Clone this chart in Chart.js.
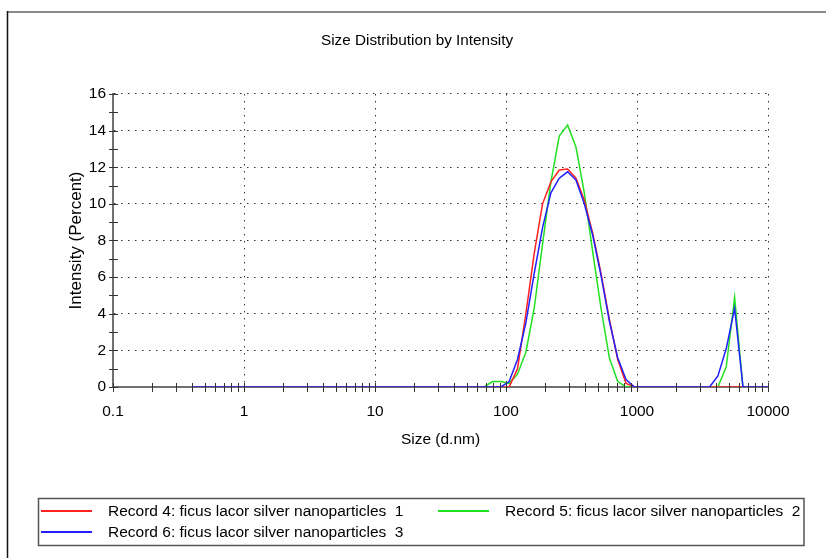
<!DOCTYPE html>
<html>
<head>
<meta charset="utf-8">
<title>Size Distribution by Intensity</title>
<script src="https://cdn.jsdelivr.net/npm/chart.js@4.4.0/dist/chart.umd.min.js"></script>
<style>
  html, body { margin: 0; padding: 0; background: #fff; }
  canvas { display: block; }
</style>
</head>
<body>
<canvas id="sizeChart" width="826" height="558"></canvas>
<script>
// size classes (d.nm)
const sizes = [
  0.4, 0.4632, 0.5365, 0.6213, 0.7195, 0.8332, 0.9649, 1.117, 1.294, 1.499,
  1.736, 2.01, 2.328, 2.696, 3.122, 3.615, 4.187, 4.849, 5.615, 6.503,
  7.531, 8.721, 10.1, 11.7, 13.54, 15.69, 18.17, 21.04, 24.36, 28.21,
  32.67, 37.84, 43.82, 50.75, 58.77, 68.06, 78.82, 91.28, 105.7, 122.4,
  141.8, 164.2, 190.1, 220.2, 255.0, 295.3, 342.0, 396.1, 458.7, 531.2,
  615.1, 712.4, 825.0, 955.4, 1106, 1281, 1484, 1718, 1990, 2305,
  2669, 3091, 3580, 4145, 4801, 5560, 6439, 7456, 8635, 10000
];

// intensity (%)
const record4 = [
  0, 0, 0, 0, 0, 0, 0, 0, 0, 0,
  0, 0, 0, 0, 0, 0, 0, 0, 0, 0,
  0, 0, 0, 0, 0, 0, 0, 0, 0, 0,
  0, 0, 0, 0, 0, 0, 0, 0, 0, 1.0,
  4.0, 7.3, 10.0, 11.2, 11.85, 11.9, 11.4, 10.2, 8.4, 6.2,
  3.7, 1.5, 0.2, 0, 0, 0, 0, 0, 0, 0,
  0, 0, 0, 0, 0, 0, 0, 0, 0, 0
];
const record5 = [
  0, 0, 0, 0, 0, 0, 0, 0, 0, 0,
  0, 0, 0, 0, 0, 0, 0, 0, 0, 0,
  0, 0, 0, 0, 0, 0, 0, 0, 0, 0,
  0, 0, 0, 0, 0, 0, 0.3, 0.3, 0.2, 0.7,
  1.9, 4.3, 7.8, 11.2, 13.7, 14.3, 13.1, 10.6, 7.4, 4.3,
  1.6, 0.3, 0, 0, 0, 0, 0, 0, 0, 0,
  0, 0, 0, 0, 1.1, 4.9, 0, 0, 0, 0
];
const record6 = [
  0, 0, 0, 0, 0, 0, 0, 0, 0, 0,
  0, 0, 0, 0, 0, 0, 0, 0, 0, 0,
  0, 0, 0, 0, 0, 0, 0, 0, 0, 0,
  0, 0, 0, 0, 0, 0, 0, 0, 0.3, 1.5,
  3.5, 6.2, 8.7, 10.6, 11.4, 11.75, 11.3, 10.0, 8.3, 6.1,
  3.6, 1.6, 0.4, 0, 0, 0, 0, 0, 0, 0,
  0, 0, 0, 0.6, 2.1, 4.3, 0, 0, 0, 0
];

const seriesLabels = [
  'Record 4: ficus lacor silver nanoparticles  1',
  'Record 5: ficus lacor silver nanoparticles  2',
  'Record 6: ficus lacor silver nanoparticles  3'
];

const xMajorTicks = [0.1, 1, 10, 100, 1000, 10000];
const xTickLabels = ['0.1', '1', '10', '100', '1000', '10000'];
const yTickLabels = ['0', '2', '4', '6', '8', '10', '12', '14', '16'];

const FONT = "'Liberation Sans', Arial, sans-serif";

function points(vals) {
  return sizes.map((s, i) => ({x: s, y: vals[i]}));
}

// all log ticks: majors plus 2..9 in each decade
const xAllTicks = [];
xMajorTicks.forEach((m, i) => {
  xAllTicks.push(m);
  if (i < xMajorTicks.length - 1) {
    for (let k = 2; k <= 9; k++) xAllTicks.push(m * k);
  }
});

// white page + outer frame lines
const framePlugin = {
  id: 'frame',
  beforeDraw(chart) {
    const ctx = chart.ctx;
    ctx.save();
    ctx.fillStyle = '#fff';
    ctx.fillRect(0, 0, chart.width, chart.height);
    ctx.strokeStyle = '#8a8a8a';
    ctx.lineWidth = 2;
    ctx.beginPath();
    ctx.moveTo(7, 12);
    ctx.lineTo(chart.width, 12);
    ctx.stroke();
    ctx.strokeStyle = '#111';
    ctx.lineWidth = 1.5;
    ctx.beginPath();
    ctx.moveTo(7.5, 11);
    ctx.lineTo(7.5, chart.height);
    ctx.stroke();
    ctx.restore();
  }
};

// small tick marks crossing both axes
const tickMarks = {
  id: 'tickMarks',
  afterDatasetsDraw(chart) {
    const {ctx, chartArea: a, scales: {x, y}} = chart;
    ctx.save();
    ctx.strokeStyle = '#333';
    ctx.lineWidth = 1;
    ctx.beginPath();
    x.ticks.forEach(t => {
      const px = Math.round(x.getPixelForValue(t.value)) + 0.5;
      ctx.moveTo(px, a.bottom - 4);
      ctx.lineTo(px, a.bottom + 5);
    });
    y.ticks.forEach(t => {
      const py = Math.round(y.getPixelForValue(t.value)) + 0.5;
      ctx.moveTo(a.left - 4, py);
      ctx.lineTo(a.left + 5, py);
    });
    ctx.stroke();
    ctx.restore();
  }
};

// boxed legend under the plot
const boxLegend = {
  id: 'boxLegend',
  afterDraw(chart) {
    const ctx = chart.ctx;
    const ds = chart.data.datasets;
    const slots = [[41, 511], [438, 511], [41, 532]];
    ctx.save();
    ctx.strokeStyle = '#555';
    ctx.lineWidth = 1.5;
    ctx.strokeRect(38.5, 498.5, 765.5, 47);
    ctx.font = '15.5px ' + FONT;
    ctx.textBaseline = 'middle';
    ctx.fillStyle = '#000';
    ds.forEach((d, i) => {
      const [lx, ly] = slots[i];
      ctx.strokeStyle = d.borderColor;
      ctx.lineWidth = 2;
      ctx.beginPath();
      ctx.moveTo(lx, ly);
      ctx.lineTo(lx + 51, ly);
      ctx.stroke();
      ctx.fillText(d.label, lx + 67, ly + 1);
    });
    ctx.restore();
  }
};

const tickFont = {family: FONT, size: 15.5};

new Chart(document.getElementById('sizeChart').getContext('2d'), {
  type: 'line',
  data: {
    datasets: [
      {label: seriesLabels[0], data: points(record4), borderColor: '#ff2020', order: 1},
      {label: seriesLabels[1], data: points(record5), borderColor: '#22e022', order: 2},
      {label: seriesLabels[2], data: points(record6), borderColor: '#2020ff', order: 0}
    ]
  },
  options: {
    responsive: false,
    animation: false,
    devicePixelRatio: 1,
    layout: {padding: {left: 66, top: 31.8, right: 58, bottom: 0}},
    elements: {
      point: {radius: 0},
      line: {borderWidth: 1.5, tension: 0, fill: false}
    },
    plugins: {
      legend: {display: false},
      tooltip: {enabled: false},
      title: {
        display: true,
        text: 'Size Distribution by Intensity',
        color: '#000',
        font: {family: FONT, size: 15.3, weight: 'normal'},
        padding: {top: 0, bottom: 43.8}
      }
    },
    scales: {
      x: {
        type: 'logarithmic',
        min: 0.1,
        max: 10000,
        afterBuildTicks(axis) {
          axis.ticks = xAllTicks.map(v => ({value: v}));
        },
        afterFit(axis) {
          axis.height = 171;
        },
        ticks: {
          autoSkip: false,
          maxRotation: 0,
          minRotation: 0,
          padding: 15.7,
          color: '#000',
          font: tickFont,
          callback(v) {
            const i = xMajorTicks.indexOf(v);
            return i >= 0 ? xTickLabels[i] : '';
          }
        },
        grid: {
          drawTicks: false,
          lineWidth: 1,
          color: c => (c.tick && xMajorTicks.includes(c.tick.value)) ? '#333' : 'rgba(0,0,0,0)'
        },
        border: {display: true, color: '#707070', width: 2, dash: [1.5, 5.5]},
        title: {
          display: true,
          text: 'Size (d.nm)',
          color: '#000',
          font: {family: FONT, size: 15.5},
          padding: {top: 0, bottom: 108.7}
        }
      },
      y: {
        min: 0,
        max: 16,
        afterFit(axis) {
          axis.width = 47;
        },
        ticks: {
          stepSize: 1,
          autoSkip: false,
          padding: 7,
          color: '#000',
          font: tickFont,
          callback(v) {
            return v % 2 === 0 ? yTickLabels[v / 2] : '';
          }
        },
        grid: {
          drawTicks: false,
          lineWidth: 1,
          color: c => (c.tick && c.tick.value % 2 === 0) ? '#333' : 'rgba(0,0,0,0)'
        },
        border: {display: true, color: '#707070', width: 2, dash: [1.5, 5.5]},
        title: {
          display: true,
          text: 'Intensity (Percent)',
          color: '#000',
          font: {family: FONT, size: 17},
          padding: {top: 0, bottom: 0}
        }
      }
    }
  },
  plugins: [framePlugin, tickMarks, boxLegend]
});
</script>
</body>
</html>
